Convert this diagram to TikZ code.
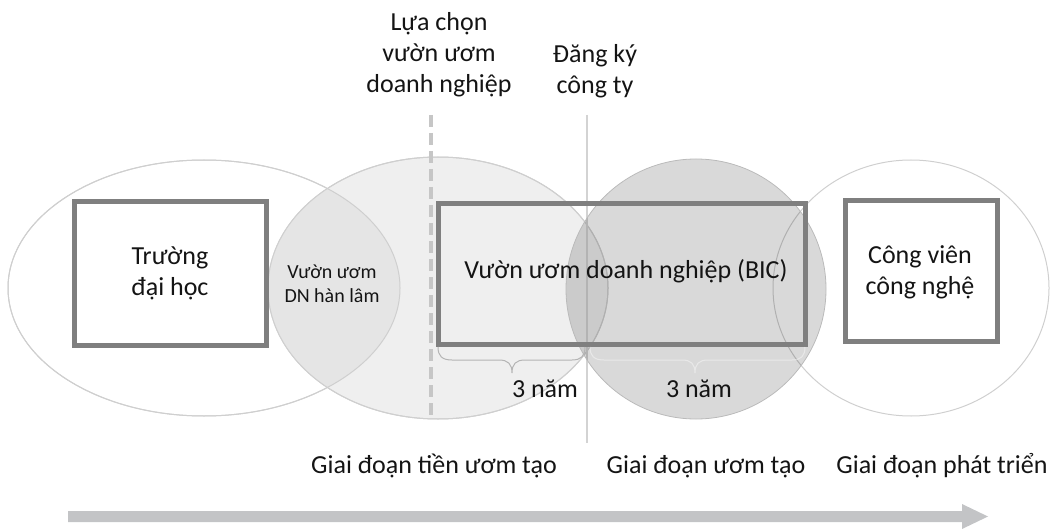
\documentclass[tikz,border=0pt]{standalone}
\usepackage{fontspec}
\setmainfont{Carlito}
\definecolor{rectgray}{HTML}{7F7F7F}
\definecolor{ringc}{HTML}{CFCFCF}
\definecolor{etwo}{HTML}{EFEFEF}
\definecolor{lensc}{HTML}{E5E5E5}
\definecolor{dashc}{HTML}{C6C6C6}
\definecolor{vlinec}{HTML}{D3D3D3}
\definecolor{bracec}{HTML}{B4B4B4}
\definecolor{arrowc}{HTML}{C3C4C6}
\definecolor{textc}{HTML}{141414}
\newcommand\mlines[1]{\begin{tabular}[t]{@{}c@{}}#1\end{tabular}}
\begin{document}
\begin{tikzpicture}[x=1pt,y=-1pt,
  txt/.style={font=\fontsize{26}{31}\selectfont, text=textc, inner sep=0pt, anchor=base},
  smalltxt/.style={font=\fontsize{20}{24}\selectfont, text=textc, inner sep=0pt, anchor=base},
  box/.style={draw=rectgray, line width=5pt},
  ring/.style={draw=ringc, line width=1pt},
  bracestyle/.style={draw=bracec, line width=1pt},
]
\useasboundingbox (0,0) rectangle (1051,529);
% ellipses
\draw[ring, fill=white] (204,288) ellipse [x radius=196pt, y radius=128pt];
\draw[ring, fill=etwo] (438,288) ellipse [x radius=170pt, y radius=131pt];
\begin{scope}
  \clip (204,288) ellipse [x radius=196pt, y radius=128pt];
  \fill[lensc] (438,288) ellipse [x radius=170pt, y radius=131pt];
\end{scope}
\draw[ring] (204,288) ellipse [x radius=196pt, y radius=128pt];
\draw[ring] (438,288) ellipse [x radius=170pt, y radius=131pt];
\draw[ring] (911,288) ellipse [x radius=138pt, y radius=128pt];
% vertical markers
\coordinate (vt) at (587,115);
\coordinate (vb) at (587,443);
\draw[vlinec, line width=1.2pt] (vt) -- (vb);
\coordinate (dt) at (431,115);
\coordinate (db) at (431,417);
\draw[dashc, line width=4pt, dash pattern=on 12pt off 6pt] (dt) -- (db);
% university box
\draw[box, fill=white] (74.5,201.5) rectangle (266.5,345.5);
% incubation circle
\draw[draw=ringc!90!black, line width=0.8pt, fill=black, fill opacity=0.15] (696,289) circle [radius=130pt];
% BIC box
\draw[box] (438.5,203.5) rectangle (805.5,344.5);
% park box
\draw[box, fill=white] (845.5,200.5) rectangle (997.5,341.5);
% braces
\draw[bracestyle] (438,347) .. controls (438,356) and (442,360) .. (452,360) -- (499,360)
  .. controls (508,360) and (512,364) .. (512,373)
  .. controls (512,364) and (516,360) .. (525,360) -- (572,360)
  .. controls (581,360) and (585,356) .. (585,347);
\draw[white, line width=1pt, opacity=0.4] (590,347) .. controls (590,356) and (594,360) .. (604,360) -- (682,360)
  .. controls (691,360) and (695,364) .. (695,373)
  .. controls (695,364) and (699,360) .. (708,360) -- (792,360)
  .. controls (801,360) and (805,356) .. (805,347);
% texts
\node[txt] (choose) at (439,31) {\mlines{Lựa chọn\\vườn ươm\\doanh nghiệp}};
\node[txt] (register) at (595,63) {\mlines{Đăng ký\\công ty}};
\node[txt] (uni) at (170,265) {\mlines{Trường\\đại học}};
\node[smalltxt] (acad) at (332,278) {\mlines{Vườn ươm\\DN hàn lâm}};
\node[txt] (bic) at (626,278) {Vườn ươm doanh nghiệp (BIC)};
\node[txt] (park) at (920,263) {\mlines{Công viên\\công nghệ}};
\node[txt] (yrs1) at (545,397) {3 năm};
\node[txt] (yrs2) at (699,397) {3 năm};
\node[txt] (pre) at (434,473) {Giai đoạn tiền ươm tạo};
\node[txt] (inc) at (706,473) {Giai đoạn ươm tạo};
\node[txt] (dev) at (942,473) {Giai đoạn phát triển};
% timeline arrow
\fill[arrowc] (68,511) -- (962,511) -- (962,504) -- (988,516.5) -- (962,529) -- (962,522) -- (68,522) -- cycle;
\end{tikzpicture}
\end{document}
